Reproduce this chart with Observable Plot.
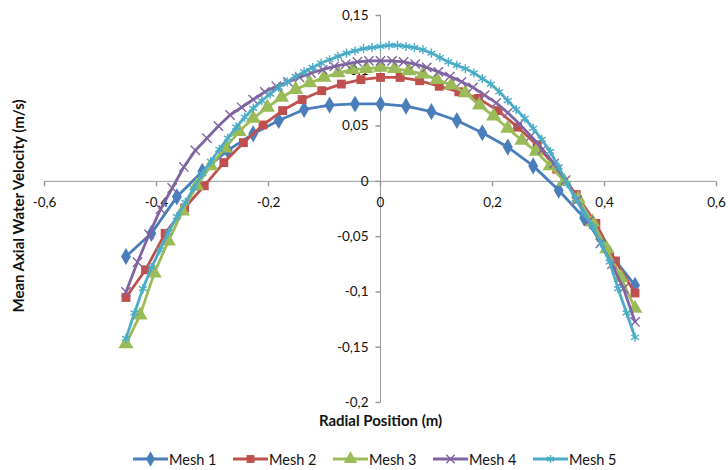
<!DOCTYPE html>
<html>
<head>
<meta charset="utf-8">
<script src="https://cdn.jsdelivr.net/npm/d3@7"></script>
<script src="https://cdn.jsdelivr.net/npm/@observablehq/plot@0.6"></script>
<style>
  body { margin: 0; background: #fff; font-family: Lato, "Open Sans", sans-serif; }
  #wrap { position: relative; width: 728px; height: 470px; overflow: hidden; }
  #legend { position: absolute; left: 0; top: 440px; width: 728px; height: 30px; }
  .item { position: absolute; top: 9px; height: 20px; display: flex; align-items: center; font-size: 14.5px; color: #111; white-space: nowrap; }
  .item svg { display: block; margin-right: 1px; }
</style>
</head>
<body>
<div id="wrap"><div id="chart"></div><div id="legend"></div></div>
<script>
// ---- data ----
const seriesNames = ["Mesh 1", "Mesh 2", "Mesh 3", "Mesh 4", "Mesh 5"];
const seriesColors = ["#4A7EBB", "#C0504D", "#9BBB59", "#8064A2", "#4BACC6"];

const mesh1X = [-0.4545,-0.4091,-0.3636,-0.3182,-0.2727,-0.2273,-0.1818,-0.1364,-0.0909,-0.0455,0,0.0455,0.0909,0.1364,0.1818,0.2273,0.2727,0.3182,0.3636,0.4091,0.4545];
const mesh1Y = [-0.068,-0.047,-0.014,0.009,0.028,0.043,0.055,0.065,0.069,0.070,0.070,0.068,0.063,0.055,0.044,0.031,0.014,-0.008,-0.033,-0.065,-0.094];

const mesh2X = [-0.4545,-0.4196,-0.3846,-0.3497,-0.3147,-0.2797,-0.2448,-0.2098,-0.1748,-0.1399,-0.1049,-0.0699,-0.0350,0,0.0350,0.0699,0.1049,0.1399,0.1748,0.2098,0.2448,0.2797,0.3147,0.3497,0.3846,0.4196,0.4545];
const mesh2Y = [-0.105,-0.080,-0.047,-0.024,-0.004,0.017,0.035,0.051,0.064,0.074,0.082,0.088,0.092,0.094,0.094,0.091,0.086,0.081,0.075,0.064,0.049,0.033,0.011,-0.012,-0.038,-0.072,-0.101];

const mesh3X = [-0.4545,-0.4293,-0.4040,-0.3788,-0.3535,-0.3283,-0.3030,-0.2778,-0.2525,-0.2273,-0.2020,-0.1768,-0.1515,-0.1263,-0.1010,-0.0758,-0.0505,-0.0253,0,0.0253,0.0505,0.0758,0.1010,0.1263,0.1515,0.1768,0.2020,0.2273,0.2525,0.2778,0.3030,0.3283,0.3535,0.3788,0.4040,0.4293,0.4545];
const mesh3Y = [-0.147,-0.121,-0.083,-0.054,-0.027,-0.004,0.014,0.030,0.045,0.057,0.067,0.076,0.083,0.089,0.094,0.098,0.101,0.102,0.103,0.102,0.100,0.097,0.092,0.087,0.080,0.069,0.059,0.048,0.037,0.027,0.014,0.000,-0.016,-0.037,-0.061,-0.087,-0.115];

const mesh4X = [-0.4545,-0.4339,-0.4132,-0.3926,-0.3719,-0.3512,-0.3306,-0.3099,-0.2893,-0.2686,-0.2479,-0.2273,-0.2066,-0.1860,-0.1653,-0.1446,-0.1240,-0.1033,-0.0826,-0.0620,-0.0413,-0.0207,0,0.0207,0.0413,0.0620,0.0826,0.1033,0.1240,0.1446,0.1653,0.1860,0.2066,0.2273,0.2479,0.2686,0.2893,0.3099,0.3306,0.3512,0.3719,0.3926,0.4132,0.4339,0.4545];
const mesh4Y = [-0.100,-0.073,-0.048,-0.025,-0.006,0.013,0.028,0.039,0.050,0.060,0.067,0.074,0.081,0.086,0.090,0.094,0.098,0.101,0.104,0.106,0.108,0.109,0.109,0.109,0.108,0.106,0.103,0.099,0.095,0.090,0.085,0.078,0.071,0.062,0.052,0.041,0.029,0.016,0.001,-0.017,-0.036,-0.056,-0.075,-0.097,-0.127];

const mesh5X = [-0.4545,-0.4394,-0.4242,-0.4091,-0.3939,-0.3788,-0.3636,-0.3485,-0.3333,-0.3182,-0.3030,-0.2879,-0.2727,-0.2576,-0.2424,-0.2273,-0.2121,-0.1970,-0.1818,-0.1667,-0.1515,-0.1364,-0.1212,-0.1061,-0.0909,-0.0758,-0.0606,-0.0455,-0.0303,-0.0152,0,0.0152,0.0303,0.0455,0.0606,0.0758,0.0909,0.1061,0.1212,0.1364,0.1515,0.1667,0.1818,0.1970,0.2121,0.2273,0.2424,0.2576,0.2727,0.2879,0.3030,0.3182,0.3333,0.3485,0.3636,0.3788,0.3939,0.4091,0.4242,0.4394,0.4545];
const mesh5Y = [-0.142,-0.119,-0.097,-0.078,-0.062,-0.046,-0.032,-0.019,-0.006,0.007,0.018,0.029,0.039,0.049,0.058,0.066,0.073,0.079,0.085,0.090,0.095,0.099,0.103,0.107,0.110,0.113,0.116,0.118,0.120,0.121,0.122,0.123,0.123,0.122,0.121,0.119,0.116,0.112,0.108,0.105,0.102,0.098,0.093,0.088,0.081,0.073,0.065,0.057,0.048,0.038,0.027,0.013,-0.002,-0.016,-0.029,-0.041,-0.056,-0.073,-0.097,-0.119,-0.141];

const xTicks = [-0.6, -0.4, -0.2, 0, 0.2, 0.4, 0.6];
const yTicks = [0.15, 0.1, 0.05, 0, -0.05, -0.1, -0.15, -0.2];
const xTitle = "Radial Position (m)";
const yTitle = "Mean Axial Water Velocity (m/s)";

// ---- build ----
const xs = [mesh1X, mesh2X, mesh3X, mesh4X, mesh5X];
const ys = [mesh1Y, mesh2Y, mesh3Y, mesh4Y, mesh5Y];
const symbols = ["diamond", "square", "triangle", "times", "asterisk"];
const filled = [true, true, true, false, false];
const radii = [5.2, 5.0, 5.6, 4.3, 4.3];

const fmt = d => d === 0 ? "0" : String(d).replace(".", ",");
const tickDown = { draw(ctx) { ctx.moveTo(0, 0); ctx.lineTo(0, 5); } };
const tickLeft = { draw(ctx) { ctx.moveTo(0, 0); ctx.lineTo(-5, 0); } };
const axisColor = "#9a9a9a";

const seriesMarks = [];
seriesNames.forEach((name, i) => {
  const rows = xs[i].map((x, j) => ({ x, y: ys[i][j] }));
  seriesMarks.push(Plot.line(rows, { x: "x", y: "y", stroke: seriesColors[i], strokeWidth: 2.8, strokeLinejoin: "round" }));
  seriesMarks.push(Plot.dot(rows, filled[i]
    ? { x: "x", y: "y", symbol: symbols[i], r: radii[i], fill: seriesColors[i], stroke: "none" }
    : { x: "x", y: "y", symbol: symbols[i], r: radii[i], fill: "none", stroke: seriesColors[i], strokeWidth: 1.4 }));
});

const chart = Plot.plot({
  width: 728,
  height: 440,
  marginLeft: 44,
  marginRight: 12,
  marginTop: 15,
  marginBottom: 38,
  x: { domain: [-0.6, 0.6], axis: null },
  y: { domain: [-0.2, 0.15], axis: null },
  style: { fontFamily: "Lato, 'Open Sans', sans-serif", background: "#fff", color: "#111", overflow: "visible" },
  marks: [
    Plot.ruleY([0], { stroke: axisColor, strokeWidth: 1 }),
    Plot.ruleX([0], { stroke: axisColor, strokeWidth: 1 }),
    Plot.dot(xTicks, { x: d => d, y: 0, symbol: tickDown, r: 3, stroke: axisColor, fill: "none" }),
    Plot.dot(yTicks, { x: 0, y: d => d, symbol: tickLeft, r: 3, stroke: axisColor, fill: "none" }),
    Plot.text(xTicks, { x: d => d, y: 0, text: fmt, dy: 21, fontSize: 13.5, fill: "#111" }),
    Plot.text(yTicks, { x: 0, y: d => d, text: fmt, textAnchor: "end", dx: -12, fontSize: 13.5, fill: "#111" }),
    Plot.text([xTitle], { frameAnchor: "bottom", textAnchor: "middle", dy: 23, fontSize: 15, fontWeight: "bold", fill: "#111" }),
    Plot.text([yTitle], { frameAnchor: "left", textAnchor: "middle", rotate: -90, dx: -25, dy: -3, fontSize: 15, fontWeight: "bold", fill: "#111" }),
    ...seriesMarks
  ]
});
document.getElementById("chart").appendChild(chart);

// ---- legend ----
const legend = document.getElementById("legend");
seriesNames.forEach((name, i) => {
  const item = document.createElement("div");
  item.className = "item";
  item.style.left = (133 + 100 * i) + "px";
  const svg = d3.create("svg").attr("width", 35).attr("height", 20);
  svg.append("line").attr("x1", 0).attr("x2", 35).attr("y1", 10).attr("y2", 10)
    .attr("stroke", seriesColors[i]).attr("stroke-width", 2.8);
  const symType = [d3.symbolDiamond, d3.symbolSquare, d3.symbolTriangle, d3.symbolTimes, d3.symbolAsterisk][i];
  const size = Math.PI * radii[i] * radii[i] * 0.8;
  const p = svg.append("path").attr("transform", "translate(17.5,10)").attr("d", d3.symbol(symType, size)());
  if (filled[i]) p.attr("fill", seriesColors[i]);
  else p.attr("fill", "none").attr("stroke", seriesColors[i]).attr("stroke-width", 1.4);
  item.appendChild(svg.node());
  const span = document.createElement("span");
  span.textContent = name;
  item.appendChild(span);
  legend.appendChild(item);
});
</script>
</body>
</html>
